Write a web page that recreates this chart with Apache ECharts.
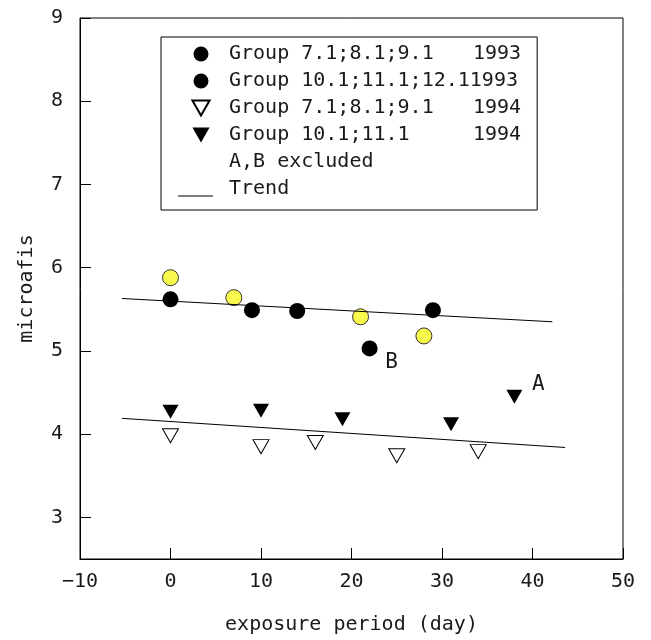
<!DOCTYPE html>
<html>
<head>
<meta charset="utf-8">
<title>microafis vs exposure period</title>
<script src="https://cdn.jsdelivr.net/npm/echarts@6/dist/echarts.min.js"></script>
<style>
  html, body { margin: 0; padding: 0; background: #fff; }
  #chart { width: 651px; height: 640px; }
</style>
</head>
<body>
<div id="chart"></div>
<script>
const FONT = "'DejaVu Sans Mono', monospace"
const TEXT_COLOR = '#1a1a1a'

// [exposure day, microafis]
const group7_1993 = [[0, 5.88], [7, 5.64], [21, 5.41], [28, 5.18]]
const group10_1993 = [[0, 5.62], [9, 5.49], [14, 5.48], [22, 5.03], [29, 5.49]]
const group7_1994 = [[0, 3.98], [10, 3.85], [16, 3.90], [25, 3.74], [34, 3.79]]
const group10_1994 = [[0, 4.27], [10, 4.28], [19, 4.18], [31, 4.12], [38, 4.45]]

const trend1993 = [[-5.36, 5.63], [42.2, 5.35]]
const trend1994 = [[-5.36, 4.19], [43.6, 3.84]]

// excluded points (index into the series above)
const excludedB = 3 // group10_1993
const excludedA = 4 // group10_1994

const xTicks = [-10, 0, 10, 20, 30, 40, 50]
const yTicks = [3, 4, 5, 6, 7, 8, 9]

const legendNames = [
  'Group 7.1;8.1;9.1|1993',
  'Group 10.1;11.1;12.11993',
  'Group 7.1;8.1;9.1|1994',
  'Group 10.1;11.1|1994',
  'A,B excluded',
  'Trend'
]

const DOWN_TRIANGLE = 'path://M0,0L16,0L8,14Z'
const TREND_ICON = 'path://M0,0h0.01v0.01h-0.01zM0,14h35v1h-35zM46,0h0.01v0.01h-0.01z'

const withLabel = (data, index, text, offset) => data.map((d, i) => i === index ? {
  value: d,
  label: {
    show: true,
    formatter: text,
    position: 'inside',
    offset: offset,
    fontFamily: FONT,
    fontSize: 21,
    color: TEXT_COLOR
  }
} : d)

const chart = echarts.init(document.getElementById('chart'))

const option = {
  animation: false,
  grid: {
    left: 80,
    right: 28,
    top: 18,
    bottom: 81,
    show: true,
    borderColor: '#000',
    borderWidth: 1
  },
  legend: {
    left: 161,
    top: 37,
    orient: 'vertical',
    selectedMode: false,
    borderColor: '#000',
    borderWidth: 1,
    padding: [7, 16, 11, 17],
    itemWidth: 46,
    itemHeight: 15,
    itemGap: 7,
    textStyle: {
      fontFamily: FONT,
      fontSize: 20,
      lineHeight: 20,
      color: TEXT_COLOR,
      rich: {
        n: { fontFamily: FONT, fontSize: 20, color: TEXT_COLOR, width: 244 },
        y: { fontFamily: FONT, fontSize: 20, color: TEXT_COLOR }
      }
    },
    formatter: (name) => {
      const parts = name.split('|')
      return parts.length === 2 ? `{n|${parts[0]}}{y|${parts[1]}}` : name
    },
    data: [
      { name: legendNames[0], itemStyle: { color: '#000', borderColor: '#000', borderWidth: 0 } },
      { name: legendNames[1] },
      { name: legendNames[2] },
      { name: legendNames[3] },
      { name: legendNames[4], icon: 'circle', itemStyle: { color: 'rgba(0,0,0,0)', opacity: 0 } },
      { name: legendNames[5], icon: TREND_ICON, itemStyle: { color: '#000' } }
    ]
  },
  xAxis: {
    type: 'value',
    min: xTicks[0],
    max: xTicks[xTicks.length - 1],
    interval: 10,
    name: 'exposure period (day)',
    nameLocation: 'middle',
    nameGap: 56,
    nameTextStyle: { fontFamily: FONT, fontSize: 20, color: TEXT_COLOR },
    axisLine: { onZero: false, lineStyle: { color: '#000', width: 1 } },
    axisTick: { inside: true, length: 11, lineStyle: { color: '#000' } },
    axisLabel: {
      margin: 13,
      fontFamily: FONT,
      fontSize: 20,
      color: TEXT_COLOR,
      formatter: (v) => String(v).replace('-', '\u2212')
    },
    splitLine: { show: false }
  },
  yAxis: {
    type: 'value',
    min: 2.5,
    max: 9,
    name: 'microafis',
    nameLocation: 'middle',
    nameGap: 43,
    nameTextStyle: { fontFamily: FONT, fontSize: 20, color: TEXT_COLOR },
    axisLine: { show: true, onZero: false, lineStyle: { color: '#000', width: 1 } },
    axisTick: { show: true, inside: true, length: 11, customValues: yTicks, lineStyle: { color: '#000' } },
    axisLabel: {
      margin: 17,
      fontFamily: FONT,
      fontSize: 20,
      color: TEXT_COLOR,
      customValues: yTicks
    },
    splitLine: { show: false }
  },
  series: [
    {
      name: legendNames[0],
      type: 'scatter',
      symbol: 'circle',
      symbolSize: 16,
      itemStyle: { color: '#fafa4e', borderColor: '#333', borderWidth: 1, opacity: 1 },
      data: group7_1993
    },
    {
      name: legendNames[1],
      type: 'scatter',
      symbol: 'circle',
      symbolSize: 16,
      itemStyle: { color: '#000', opacity: 1 },
      data: withLabel(group10_1993, excludedB, 'B', [22, 14])
    },
    {
      name: legendNames[2],
      type: 'scatter',
      symbol: DOWN_TRIANGLE,
      symbolSize: [16, 14],
      symbolKeepAspect: false,
      itemStyle: { color: '#fff', borderColor: '#000', borderWidth: 1, opacity: 1 },
      data: group7_1994
    },
    {
      name: legendNames[3],
      type: 'scatter',
      symbol: DOWN_TRIANGLE,
      symbolSize: [16, 14],
      symbolKeepAspect: false,
      itemStyle: { color: '#000', opacity: 1 },
      data: withLabel(group10_1994, excludedA, 'A', [24, -12])
    },
    {
      name: legendNames[4],
      type: 'scatter',
      data: []
    },
    {
      name: legendNames[5],
      type: 'line',
      symbol: 'none',
      color: '#000',
      lineStyle: { color: '#000', width: 1 },
      data: trend1993
    },
    {
      name: legendNames[5],
      type: 'line',
      symbol: 'none',
      color: '#000',
      lineStyle: { color: '#000', width: 1 },
      data: trend1994
    }
  ]
}

chart.setOption(option)

window.addEventListener('resize', () => chart.resize())
</script>
</body>
</html>
